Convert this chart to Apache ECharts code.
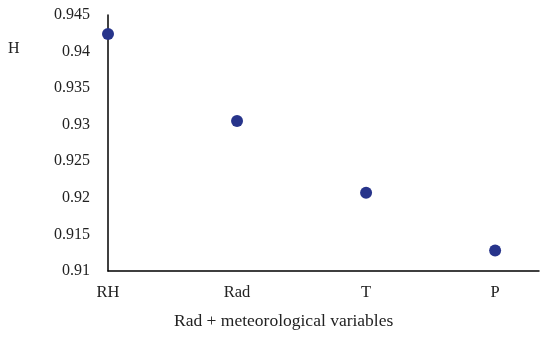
<!DOCTYPE html>
<html><head><meta charset="utf-8">
<script src="https://cdn.jsdelivr.net/npm/echarts@6/dist/echarts.min.js"></script>
<style>html,body{margin:0;padding:0;background:#fff}#c{width:550px;height:337px}</style>
</head><body><div id="c"></div>
<script>
const categories = ['RH', 'Rad', 'T', 'P'];
const hValues = [0.9424, 0.9305, 0.9207, 0.9128];
const yMin = 0.91, yMax = 0.945, yStep = 0.005;
const xTitle = 'Rad + meteorological variables';
const yTitle = 'H';

const chart = echarts.init(document.getElementById('c'));
const font = 'Liberation Serif';
chart.setOption({
  animation: false,
  grid: { left: 108, right: 11, top: 15, bottom: 66, containLabel: false },
  xAxis: {
    type: 'value', min: 0, max: 3.34, interval: 1,
    axisLine: { show: true, onZero: false, lineStyle: { color: '#000', width: 1.5 } },
    axisTick: { show: false }, splitLine: { show: false },
    axisLabel: { fontFamily: font, fontSize: 16.5, color: '#222', margin: 13,
      formatter: v => categories[v] !== undefined && Number.isInteger(v) ? categories[v] : '' }
  },
  yAxis: {
    type: 'value', min: yMin, max: yMax, interval: yStep,
    axisLine: { show: true, onZero: false, lineStyle: { color: '#000', width: 1.5 } },
    axisTick: { show: false }, splitLine: { show: false },
    axisLabel: { fontFamily: font, fontSize: 16, color: '#222', margin: 18,
      formatter: v => String(parseFloat(v.toFixed(3))) }
  },
  graphic: [
    { type: 'text', left: 8, top: 41, style: { text: yTitle, font: '16px "Liberation Serif"', fill: '#222' } },
    { type: 'text', left: 174, top: 312, style: { text: xTitle, font: '17.5px "Liberation Serif"', fill: '#222' } }
  ],
  series: [{
    type: 'scatter', symbolSize: 12,
    itemStyle: { color: '#27348b', opacity: 1 },
    data: hValues.map((v, i) => [i, v])
  }]
});
</script></body></html>
